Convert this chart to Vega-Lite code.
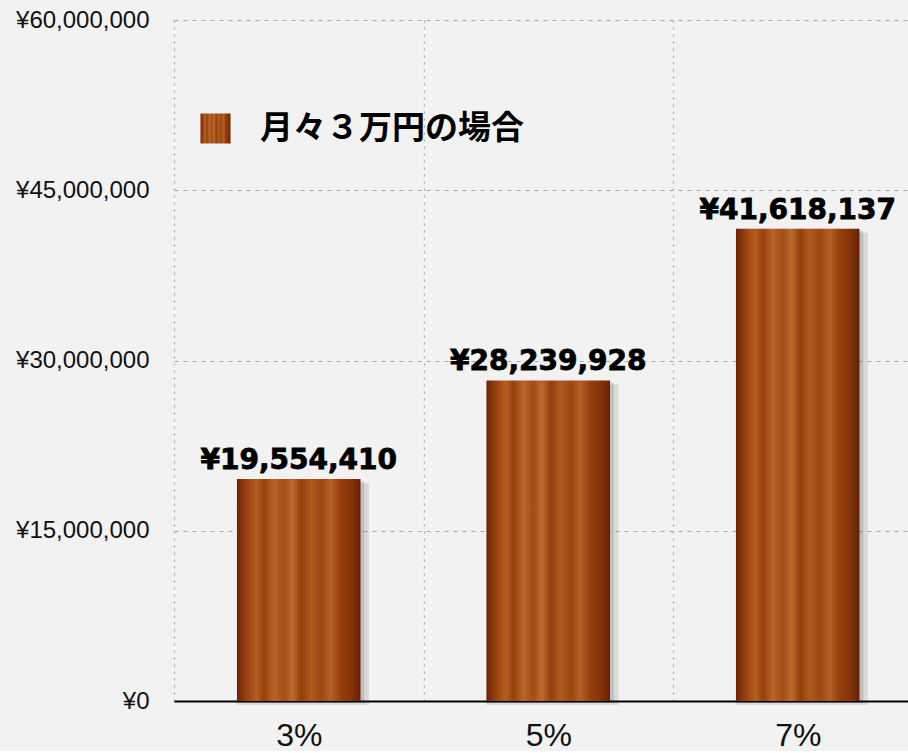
{
  "$schema": "https://vega.github.io/schema/vega-lite/v6.json",
  "width": 748.5,
  "height": 681,
  "autosize": {"type": "pad"},
  "padding": {"left": 15, "top": 8, "right": 0, "bottom": 0},
  "background": "#f2f2f2",
  "data": {
    "values": [
      {"rate": "3%", "value": 19554410, "label": "¥19,554,410", "series": "月々３万円の場合"},
      {"rate": "5%", "value": 28239928, "label": "¥28,239,928", "series": "月々３万円の場合"},
      {"rate": "7%", "value": 41618137, "label": "¥41,618,137", "series": "月々３万円の場合"}
    ]
  },
  "encoding": {
    "x": {
      "field": "rate", "type": "nominal", "sort": null,
      "scale": {"paddingInner": 0, "paddingOuter": 0},
      "axis": {
        "title": null, "labelAngle": 0, "labelFont": "Liberation Sans", "labelFontSize": 32,
        "labelColor": "#111", "labelPadding": 19, "ticks": false,
        "domainColor": "#000", "domainWidth": 2,
        "grid": true, "gridDash": [2, 5], "gridColor": "#a8a8a8", "gridWidth": 1.2,
        "tickBand": "extent"
      }
    },
    "y": {
      "field": "value", "type": "quantitative",
      "scale": {"domain": [0, 60000000], "nice": false},
      "axis": {
        "title": null, "values": [0, 15000000, 30000000, 45000000, 60000000],
        "labelExpr": "'¥' + format(datum.value, ',')",
        "labelFont": "Liberation Sans", "labelFontSize": 24, "labelColor": "#111",
        "labelPadding": 25, "ticks": false, "domain": false,
        "grid": true, "gridDash": [4, 5], "gridColor": "#a8a8a8", "gridWidth": 1.2
      }
    }
  },
  "layer": [
    {
      "mark": {"type": "bar", "width": {"band": 0.53}, "xOffset": 4, "yOffset": 4, "fill": "#000", "opacity": 0.1, "strokeWidth": 0}
    },
    {
      "mark": {"type": "bar", "width": {"band": 0.51}, "xOffset": 2, "yOffset": 2, "fill": "#000", "opacity": 0.12, "strokeWidth": 0}
    },
    {
      "mark": {
        "type": "bar", "width": {"band": 0.495}, "strokeWidth": 0,
        "fill": {
          "gradient": "linear", "x1": 0, "y1": 0, "x2": 1, "y2": 0,
          "stops": [
            {"offset": 0, "color": "#6a2303"},
            {"offset": 0.04, "color": "#84330a"},
            {"offset": 0.1, "color": "#a24a16"},
            {"offset": 0.16, "color": "#b45e20"},
            {"offset": 0.22, "color": "#97400f"},
            {"offset": 0.3, "color": "#b96428"},
            {"offset": 0.38, "color": "#a24c18"},
            {"offset": 0.45, "color": "#bd6a2e"},
            {"offset": 0.52, "color": "#943e0d"},
            {"offset": 0.6, "color": "#b05a20"},
            {"offset": 0.68, "color": "#9c4612"},
            {"offset": 0.76, "color": "#b35f26"},
            {"offset": 0.84, "color": "#963f0e"},
            {"offset": 0.92, "color": "#863508"},
            {"offset": 1, "color": "#662102"}
          ]
        }
      },
      "encoding": {
        "stroke": {
          "field": "series", "type": "nominal",
          "scale": {"range": ["#8e3a0a"]},
          "legend": {
            "orient": "none", "legendX": 25, "legendY": 92, "title": null,
            "symbolType": "square", "symbolSize": 900, "symbolStrokeWidth": 0,
            "symbolFillColor": "#8e3a0a",
            "labelFont": "Noto Sans CJK JP", "labelFontWeight": "bold", "labelFontSize": 33,
            "labelColor": "#000", "labelOffset": 28, "padding": 0, "labelLimit": 0
          }
        }
      }
    },
    {
      "mark": {"type": "text", "font": "DejaVu Sans", "fontWeight": "bold", "fontSize": 28, "baseline": "alphabetic", "dy": -10, "color": "#000", "stroke": "#000", "strokeWidth": 0.8},
      "encoding": {"text": {"field": "label"}}
    }
  ],
  "config": {"view": {"stroke": null}}
}
